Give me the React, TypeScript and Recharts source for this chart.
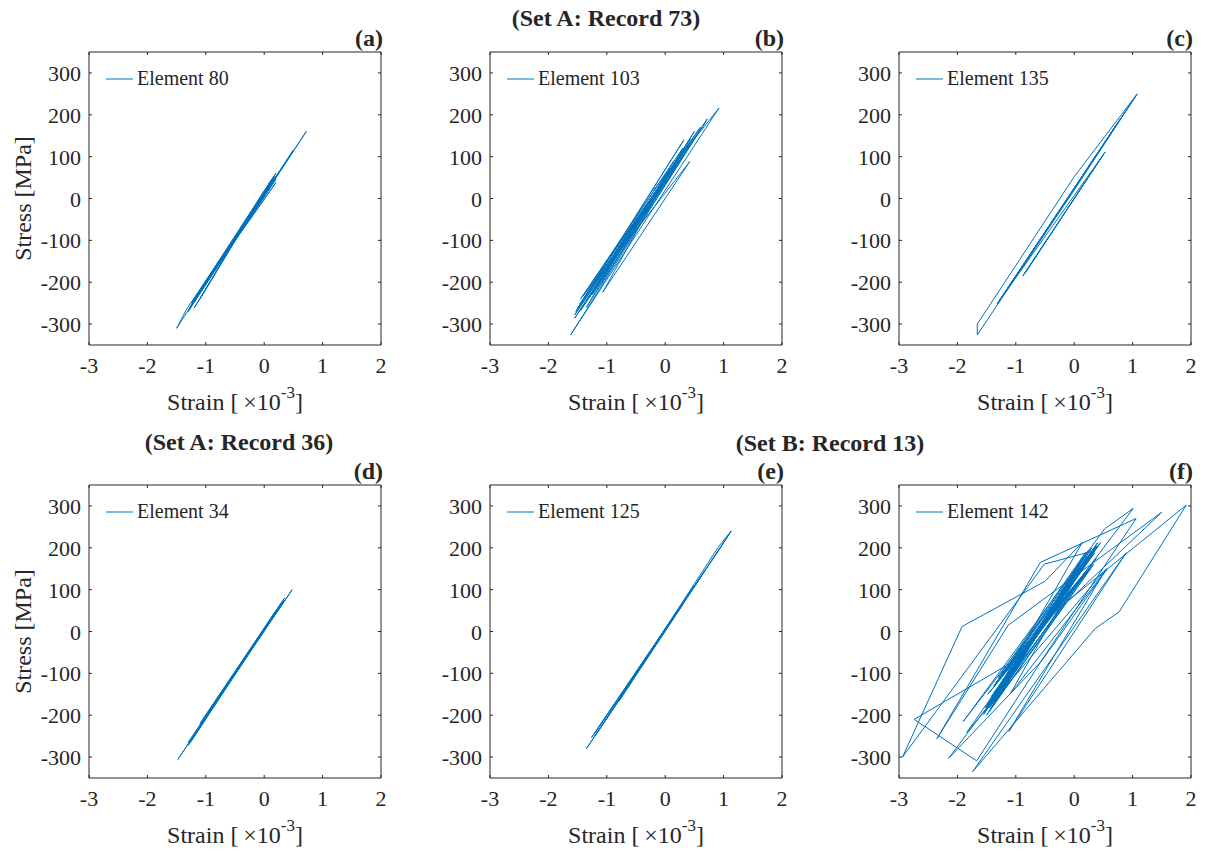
import React from "react";
import { LineChart, Line, XAxis, YAxis, Legend } from "recharts";

const BLUE = "#0072BD";
const INK = "#262626";
const FONT = '"Liberation Serif", "Times New Roman", serif';

const strainTicks = [-3, -2, -1, 0, 1, 2];
const stressTicks = [-300, -200, -100, 0, 100, 200, 300];

// [strain x1e-3, stress MPa]
const element80: [number, number][] = [
  [0.0, 8], [0.72, 160], [-0.6, -122], [0.2, 52], [-1.3, -268], [-1.0, -198],
  [0.15, 46], [-1.2, -248], [0.1, 28], [-0.9, -182], [0.18, 50], [-1.5, -310],
  [-1.33, -265], [0.05, 22], [-1.1, -226], [0.12, 38], [-0.8, -160], [0.2, 46],
  [-1.25, -255], [0.5, 116], [-0.7, -140], [0.2, 38], [-1.25, -250], [0.15, 50],
  [-1.2, -262], [0.1, 40], [-1.1, -240], [0.2, 60], [-1.3, -270], [0.0, 18],
  [-1.0, -205], [0.18, 56], [-1.28, -262], [0.1, 26], [-1.15, -232], [0.0, 4],
];

const element103: [number, number][] = [
  [-0.2, 20], [0.92, 216], [-1.62, -326], [0.72, 190], [-1.55, -286], [0.43, 142],
  [-1.53, -270], [0.32, 140], [-1.46, -252], [0.48, 145], [-1.2, -200], [0.42, 88],
  [-1.07, -224], [0.3, 120], [-1.4, -232], [0.6, 170], [-1.5, -262], [0.1, 72],
  [-1.3, -236], [0.35, 110], [-1.45, -268], [0.5, 160], [-1.25, -230], [0.35, 120],
  [-1.55, -278], [0.7, 185], [-1.35, -260], [0.15, 90], [-1.45, -240], [0.4, 130],
  [-1.1, -205], [0.0, 40], [-0.2, 4],
];

const element135: [number, number][] = [
  [-0.3, -40], [1.08, 250], [0.0, 52], [-1.66, -300], [-1.66, -326], [0.0, 20],
  [1.06, 246], [-1.32, -252], [0.8, 192], [-1.3, -248], [0.75, 182], [-1.28, -244],
  [0.53, 111], [-0.88, -185], [0.5, 105], [-0.85, -180], [0.2, 42],
];

const element34: [number, number][] = [
  [0.0, 2], [0.48, 100], [-0.6, -122], [0.3, 64], [-1.2, -246], [0.2, 44],
  [-1.48, -306], [0.1, 24], [-0.9, -184], [0.35, 75], [-1.3, -265], [0.25, 56],
  [-0.5, -102], [0.33, 72], [-1.0, -204], [0.3, 70], [-1.25, -262], [0.2, 50],
  [-1.1, -220], [0.35, 80], [-1.3, -272], [0.05, 12],
];

const element125: [number, number][] = [
  [-0.3, -60], [1.13, 240], [-1.35, -280], [0.6, 128], [-1.2, -250], [0.92, 204],
  [1.13, 240], [0.9, 190], [-1.26, -253], [0.5, 110], [-1.0, -208], [0.7, 150],
  [-1.22, -246], [0.3, 64], [-0.8, -168], [0.2, 44],
];

const element142: [number, number][] = [
  [-0.6, 0], [0.30, 190], [-1.40, -160], [0.22, 178], [-1.48, -175], [0.35, 200],
  [-1.30, -140], [0.15, 160], [-1.52, -182], [0.28, 186], [-1.36, -150], [0.38, 204],
  [-1.45, -172], [0.10, 150], [-1.25, -128], [0.32, 192], [-0.51, 161], [-2.94, -300],
  [-1.92, 12], [-0.5, 120], [0.14, 213], [-1.5, -185], [0.45, 212], [-1.9, -215],
  [0.52, 245], [1.01, 294], [-0.9, -60], [-2.74, -210], [-1.67, -309], [-0.5, -57],
  [1.06, 270], [-0.58, 165], [-2.35, -256], [-1.13, 15], [1.5, 285], [-0.2, 60],
  [-2.15, -303], [-0.55, -69], [0.56, 149], [-1.1, -150], [0.2, 170], [-1.42, -156],
  [0.26, 182], [-0.4, 40], [1.92, 302], [0.77, 47], [0.36, 7], [-1.74, -335],
  [0.89, 188], [-1.12, -239], [0.55, 150], [-1.84, -241], [0.36, 196], [-1.55, -198],
  [0.18, 168], [-1.38, -166], [0.4, 205], [-1.28, -138], [0.2, 172], [-1.33, -146],
  [0.25, 195], [-1.45, -190], [0.33, 160], [-1.3, -110], [0.2, 190], [-1.5, -200],
  [0.38, 175], [-1.2, -95], [0.15, 175], [-1.4, -180], [0.3, 200], [-1.35, -125],
  [0.12, 125], [-1.48, -150], [0.28, 150], [-1.25, -150], [0.1, 160], [-1.5, -178],
  [0.35, 188], [-1.38, -130], [0.22, 145], [-1.45, -182], [0.4, 212], [-1.32, -120],
  [0.18, 140], [-1.28, -150], [-0.6, 10],
];

const BottomTick = (p: any) => (
  <g>
    <line x1={p.x} y1={p.y} x2={p.x} y2={p.y - 3} stroke={INK} />
    <text x={p.x} y={p.y + 28} textAnchor="middle" fontSize={22} fontFamily={FONT} fill={INK}>
      {p.payload.value}
    </text>
  </g>
);
const TopTick = (p: any) => <line x1={p.x} y1={p.y} x2={p.x} y2={p.y + 3} stroke={INK} />;
const LeftTick = (p: any) => (
  <g>
    <line x1={p.x} y1={p.y} x2={p.x + 3} y2={p.y} stroke={INK} />
    <text x={p.x - 8} y={p.y + 8} textAnchor="end" fontSize={22} fontFamily={FONT} fill={INK}>
      {p.payload.value}
    </text>
  </g>
);
const RightTick = (p: any) => <line x1={p.x} y1={p.y} x2={p.x - 3} y2={p.y} stroke={INK} />;

const LegendBox = (props: any) => (
  <div style={{ fontFamily: FONT, fontSize: 20, color: INK, whiteSpace: "nowrap" }}>
    {(props.payload || []).map((e: any) => (
      <div key={e.value} style={{ display: "flex", alignItems: "center" }}>
        <svg width={27} height={4}>
          <line x1={0} y1={2} x2={27} y2={2} stroke={BLUE} strokeWidth={1} />
        </svg>
        <span style={{ marginLeft: 4 }}>{e.value}</span>
      </div>
    ))}
  </div>
);

const PW = 292;
const PH = 293;

function Panel({ data, name, left, top }: { data: [number, number][]; name: string; left: number; top: number }) {
  const rows = data.map(([strain, stress]) => ({ strain, stress }));
  return (
    <div style={{ position: "absolute", left: left - 60, top: top - 5 }}>
      <LineChart width={PW + 65} height={PH + 65} data={rows} margin={{ top: 4, right: 4, bottom: 0, left: 5 }}>
        <XAxis xAxisId="b" dataKey="strain" type="number" domain={[-3, 2]} ticks={strainTicks} interval={0}
          allowDataOverflow height={60} tickSize={0} tickMargin={0} stroke={INK} tick={(p: any) => <BottomTick {...p} />} />
        <XAxis xAxisId="t" orientation="top" dataKey="strain" type="number" domain={[-3, 2]} ticks={strainTicks} interval={0}
          allowDataOverflow height={1} tickSize={0} tickMargin={0} stroke={INK} tick={(p: any) => <TopTick {...p} />} />
        <YAxis yAxisId="l" type="number" domain={[-350, 350]} ticks={stressTicks} interval={0}
          allowDataOverflow width={55} tickSize={0} tickMargin={0} stroke={INK} tick={(p: any) => <LeftTick {...p} />} />
        <YAxis yAxisId="r" orientation="right" type="number" domain={[-350, 350]} ticks={stressTicks} interval={0}
          allowDataOverflow width={1} tickSize={0} tickMargin={0} stroke={INK} tick={(p: any) => <RightTick {...p} />} />
        <Legend layout="vertical" align="center" verticalAlign="middle" content={LegendBox}
          wrapperStyle={{ left: 77, top: 20, width: "auto", height: "auto" }} />
        <Line xAxisId="b" yAxisId="l" type="linear" dataKey="stress" name={name} stroke={BLUE} strokeWidth={1}
          dot={false} isAnimationActive={false} />
      </LineChart>
    </div>
  );
}

const cols = [89, 490, 899];
const rowsTop = [52, 485];

const panels = [
  { data: element80, name: "Element 80", letter: "(a)", c: 0, r: 0 },
  { data: element103, name: "Element 103", letter: "(b)", c: 1, r: 0 },
  { data: element135, name: "Element 135", letter: "(c)", c: 2, r: 0 },
  { data: element34, name: "Element 34", letter: "(d)", c: 0, r: 1 },
  { data: element125, name: "Element 125", letter: "(e)", c: 1, r: 1 },
  { data: element142, name: "Element 142", letter: "(f)", c: 2, r: 1 },
];

const textStyle = { fontFamily: FONT, fill: INK };

export default function App() {
  return (
    <div style={{ position: "absolute", left: 0, top: 0, width: 1207, height: 852, background: "#fff" }}>
      {panels.map((p) => (
        <Panel key={p.letter} data={p.data} name={p.name} left={cols[p.c]} top={rowsTop[p.r]} />
      ))}
      <svg width={1207} height={852} style={{ position: "absolute", left: 0, top: 0, pointerEvents: "none" }}>
        <text x={606} y={26} textAnchor="middle" fontSize={24} fontWeight="bold" {...textStyle}>(Set A: Record 73)</text>
        <text x={239} y={450} textAnchor="middle" fontSize={24} fontWeight="bold" {...textStyle}>(Set A: Record 36)</text>
        <text x={830} y={451} textAnchor="middle" fontSize={24} fontWeight="bold" {...textStyle}>(Set B: Record 13)</text>
        {panels.map((p) => {
          const l = cols[p.c];
          const t = rowsTop[p.r];
          const cx = l + PW / 2;
          const cy = t + PH / 2;
          return (
            <g key={p.letter}>
              <text x={l + PW + 2} y={t - 6} textAnchor="end" fontSize={24} fontWeight="bold" {...textStyle}>{p.letter}</text>
              <text x={cx} y={t + PH + 65} textAnchor="middle" fontSize={24} {...textStyle}>
                Strain [{"\u2009"}×10<tspan dy={-12} fontSize={17}>-3</tspan><tspan dy={12}>]</tspan>
              </text>
              {p.c === 0 && (
                <text x={31} y={cy} transform={`rotate(-90 31 ${cy})`} textAnchor="middle" fontSize={24} {...textStyle}>
                  Stress [MPa]
                </text>
              )}
            </g>
          );
        })}
      </svg>
    </div>
  );
}
